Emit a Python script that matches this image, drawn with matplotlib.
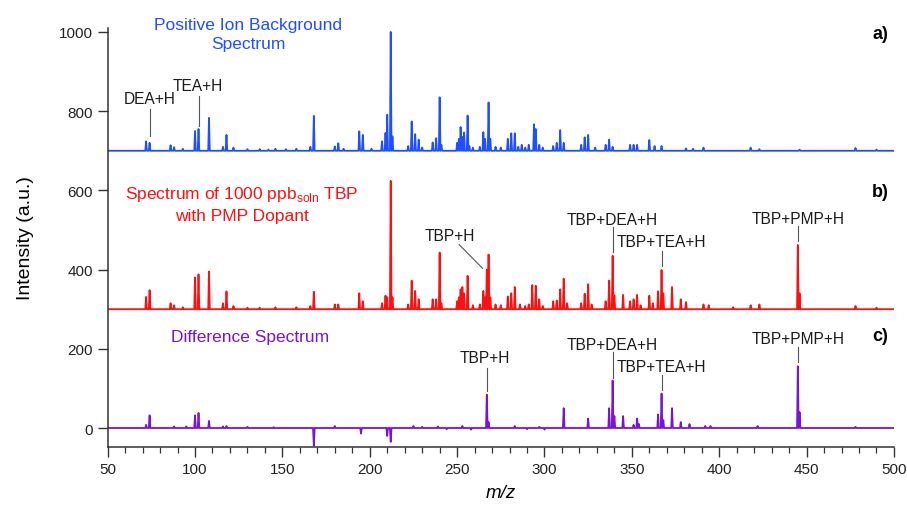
import matplotlib
matplotlib.use("Agg")
import matplotlib.pyplot as plt
from matplotlib.ticker import MultipleLocator

plt.rcParams['font.family'] = ['Liberation Sans', 'DejaVu Sans']

# background spectrum (positive ions), plotted on a +700 offset
bg_mz = [72, 74, 86, 88, 93, 100, 102, 108, 116, 118, 122, 130, 137, 142, 146,
         152, 158, 166, 168, 180, 182, 185, 194, 196, 201, 207, 209, 210, 212, 213,
         222, 224, 226, 228, 230, 236, 238, 240, 241, 250, 251, 252, 253, 254, 256,
         257, 259, 263, 265, 266, 268, 269, 272, 275, 279, 281, 283, 285, 287, 289,
         291, 294, 295, 297, 299, 305, 307, 309, 311, 321, 323, 325, 329, 335, 337,
         339, 349, 351, 353, 360, 363, 367, 381, 385, 391, 418, 423, 446, 478, 490]
bg_int = [24, 20, 14, 9, 5, 50, 55, 83, 10, 40, 8, 4, 4, 3, 5,
          4, 5, 10, 88, 11, 19, 5, 49, 40, 5, 24, 45, 91, 300, 36,
          12, 74, 42, 28, 8, 21, 32, 135, 15, 20, 30, 60, 35, 46, 89,
          12, 8, 10, 47, 30, 122, 30, 10, 8, 30, 44, 44, 10, 15, 8,
          15, 67, 55, 15, 8, 12, 20, 52, 20, 15, 34, 40, 8, 15, 28,
          10, 15, 15, 15, 27, 12, 12, 6, 5, 8, 8, 4, 3, 7, 3]

# 1000 ppb TBP with PMP dopant, plotted on a +300 offset
tbp_mz = [72, 74, 86, 88, 93, 100, 102, 108, 116, 118, 122, 130, 137, 146, 158,
          166, 168, 180, 182, 194, 196, 207, 209, 210, 212, 213, 222, 224, 226, 228,
          236, 238, 240, 241, 250, 251, 252, 253, 254, 256, 259, 263, 265, 266, 267,
          268, 269, 272, 275, 279, 281, 283, 286, 289, 291, 293, 295, 297, 299, 305,
          307, 309, 311, 313, 321, 323, 325, 327, 335, 337, 339, 340, 345, 349, 351,
          353, 355, 360, 362, 365, 367, 368, 373, 378, 381, 391, 394, 408, 418, 423,
          445, 446, 478, 490]
tbp_int = [31, 48, 15, 10, 5, 80, 88, 95, 15, 45, 8, 4, 4, 5, 5,
           8, 44, 12, 12, 40, 20, 15, 34, 30, 324, 30, 12, 72, 46, 25,
           25, 25, 143, 15, 20, 30, 50, 56, 40, 84, 10, 12, 46, 30, 100,
           138, 30, 12, 10, 32, 40, 56, 12, 8, 12, 61, 59, 25, 8, 20,
           22, 50, 77, 15, 15, 39, 63, 12, 20, 72, 135, 35, 36, 20, 25,
           36, 10, 34, 15, 45, 99, 40, 56, 25, 18, 12, 10, 5, 10, 12,
           162, 40, 8, 4]

# difference spectrum, no offset
diff_mz = [72, 74, 88, 95, 100, 102, 108, 116, 118, 130, 145, 168, 180, 195, 210,
           212, 225, 230, 239, 244, 253, 258, 267, 268, 283, 290, 297, 300, 311, 325,
           337, 339, 340, 345, 351, 353, 354, 365, 367, 368, 373, 378, 383, 392, 395,
           422, 445, 446, 478]
diff_int = [8, 32, 4, 4, 32, 38, 18, 4, 5, 3, 2, -45, 5, -14, -20,
            -35, 5, 3, 4, -3, 5, -4, 84, 15, 5, -3, 3, -4, 50, 24,
            50, 120, 30, 30, 8, 24, 10, 34, 87, 20, 50, 15, 10, 5, 5,
            5, 156, 40, 3]

offsets = [700, 300, 0]
colors = ['#1f4fff', '#ff1010', '#7a12d8']


def trace(mz, inten, offset, w=0.45):
    xs, ys = [50], [offset]
    for m, h in sorted(zip(mz, inten)):
        xs += [m - w, m, m + w]
        ys += [offset, offset + h, offset]
    xs.append(500)
    ys.append(offset)
    return xs, ys


fig = plt.figure(figsize=(9.07, 5.06), dpi=100)
ax = fig.add_axes([0.1187, 0.1146, 0.8669, 0.8281])

for (mz, inten), off, c in zip([(bg_mz, bg_int), (tbp_mz, tbp_int), (diff_mz, diff_int)],
                               offsets, colors):
    xs, ys = trace(mz, inten, off)
    ax.plot(xs, ys, color=c, lw=1.3)

ax.set_xlim(50, 500)
ax.set_ylim(-48, 1010)
ax.xaxis.set_major_locator(MultipleLocator(50))
ax.xaxis.set_minor_locator(MultipleLocator(10))
ax.yaxis.set_major_locator(MultipleLocator(200))
ax.spines['top'].set_visible(False)
ax.spines['right'].set_visible(False)
for s in ['left', 'bottom']:
    ax.spines[s].set_color('#333333')
    ax.spines[s].set_linewidth(1.1)
ax.tick_params(which='major', direction='out', length=7, width=1.0, color='#333333',
               labelsize=11, labelcolor='#222222')
ax.tick_params(which='minor', direction='out', length=4.5, width=0.9, color='#333333')

ax.set_xlabel('m/z', fontsize=13.5, style='italic', labelpad=6)
ax.set_ylabel('Intensity (a.u.)', fontsize=14, labelpad=18)

# panel titles
ax.text(130.3, 995, 'Positive Ion Background\nSpectrum', color=colors[0], fontsize=12.5,
        ha='center', va='center', multialignment='center', linespacing=1.4)
ax.text(126.8, 566, 'Spectrum of 1000 ppb$_\\mathregular{soln}$ TBP\nwith PMP Dopant',
        color=colors[1], fontsize=12.5, ha='center', va='center',
        multialignment='center', linespacing=1.4)
ax.text(131.4, 230, 'Difference Spectrum', color=colors[2], fontsize=12.5,
        ha='center', va='center')

for lab, y in [('a)', 995), ('b)', 597), ('c)', 233)]:
    ax.text(492, y, lab, fontsize=13, fontweight='bold', ha='center', va='center')

# peak assignments: label text, then leader line
line_kw = dict(color='#555555', lw=0.8)
text_kw = dict(fontsize=11.2, ha='center', va='center', color='#1a1a1a')

ax.text(74.2, 831, 'DEA+H', **text_kw)
ax.plot([74, 74], [806, 737], **line_kw)
ax.text(101.7, 866, 'TEA+H', **text_kw)
ax.plot([102, 102], [838, 763], **line_kw)

ax.text(245.8, 487, 'TBP+H', **text_kw)
ax.plot([251.2, 264.6], [463, 403], **line_kw)
ax.text(338.8, 526, 'TBP+DEA+H', **text_kw)
ax.plot([339, 339], [507, 444], **line_kw)
ax.text(367, 470, 'TBP+TEA+H', **text_kw)
ax.plot([367, 367], [448, 410], **line_kw)
ax.text(445.2, 528, 'TBP+PMP+H', **text_kw)
ax.plot([445, 445], [509, 473], **line_kw)

ax.text(265.9, 178.5, 'TBP+H', **text_kw)
ax.plot([267, 267], [151, 94], **line_kw)
ax.text(338.8, 209.6, 'TBP+DEA+H', **text_kw)
ax.plot([339, 339], [191, 126], **line_kw)
ax.text(367, 154.8, 'TBP+TEA+H', **text_kw)
ax.plot([367, 367], [134, 97], **line_kw)
ax.text(445.2, 226.5, 'TBP+PMP+H', **text_kw)
ax.plot([445, 445], [204, 166], **line_kw)

fig.savefig('out.png', dpi=100)
